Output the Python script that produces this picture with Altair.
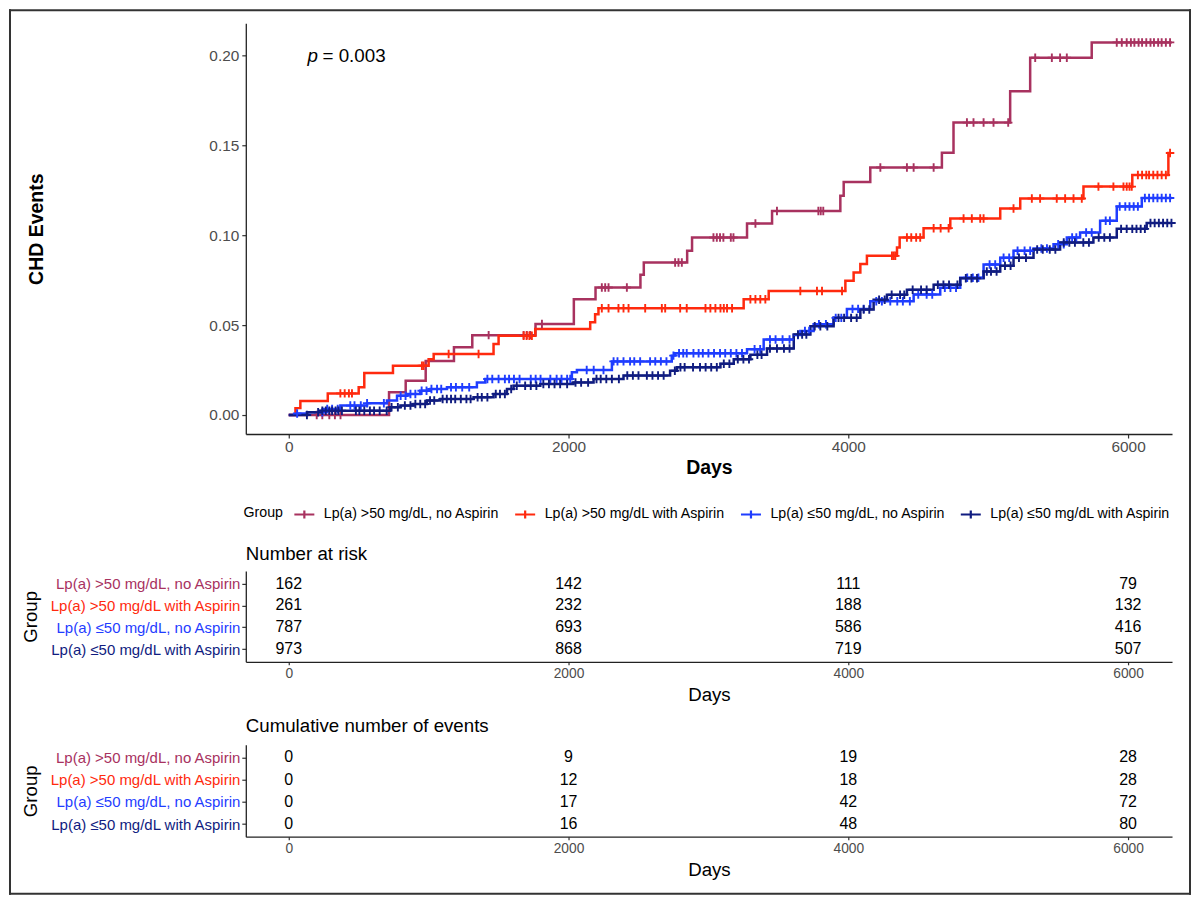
import altair as alt
import numpy as np
import pandas as pd

groups = ["Lp(a) >50 mg/dL, no Aspirin", "Lp(a) >50 mg/dL with Aspirin",
          "Lp(a) ≤50 mg/dL, no Aspirin", "Lp(a) ≤50 mg/dL with Aspirin"]
colors = ["#A8325F", "#FF2A0E", "#1F3DFF", "#101C80"]

# step curves (cumulative incidence)
g1_t = [0, 717, 836, 979, 1181, 1312, 1764, 2038, 2193, 2514, 2538, 2848, 2883, 3276, 3455, 3943, 3967, 4157, 4669, 4752, 5157, 5300, 5740]
g1_y = [0, 0.0126, 0.019, 0.030, 0.0376, 0.0444, 0.0506, 0.0644, 0.0709, 0.078, 0.0848, 0.0913, 0.0987, 0.1065, 0.1135, 0.1219, 0.1296, 0.1376, 0.1459, 0.1626, 0.180, 0.1987, 0.2072]
g2_t = [0, 48, 83, 279, 500, 540, 745, 1000, 1036, 1464, 1500, 1762, 2155, 2190, 2214, 3252, 3431, 3979, 4038, 4086, 4133, 4348, 4367, 4538, 4729, 5086, 5229, 5681, 6030, 6288]
g2_y = [0, 0.0038, 0.0077, 0.012, 0.0154, 0.0233, 0.0274, 0.031, 0.0339, 0.0394, 0.044, 0.0478, 0.0515, 0.056, 0.0594, 0.0644, 0.069, 0.0746, 0.0793, 0.0839, 0.0885, 0.0931, 0.0987, 0.1039, 0.1093, 0.1148, 0.1204, 0.127, 0.1335, 0.1457]
g3_t = [0, 60, 131, 250, 369, 560, 702, 774, 845, 940, 1012, 1131, 1345, 1405, 2024, 2060, 2310, 2738, 2762, 3276, 3395, 3610, 3657, 3752, 3895, 3990, 4157, 4467, 4657, 4800, 4967, 5086, 5181, 5324, 5467, 5562, 5657, 5800, 5919, 6098]
g3_y = [0, 0.0008, 0.0015, 0.0033, 0.0052, 0.0065, 0.008, 0.0107, 0.0117, 0.0135, 0.0144, 0.0154, 0.0181, 0.02, 0.0237, 0.025, 0.0298, 0.033, 0.0343, 0.0365, 0.042, 0.0445, 0.0467, 0.0505, 0.054, 0.059, 0.0633, 0.067, 0.0707, 0.0763, 0.0837, 0.0874, 0.0913, 0.0926, 0.095, 0.0987, 0.1015, 0.108, 0.116, 0.1207]
g4_t = [0, 131, 226, 726, 798, 893, 988, 1083, 1321, 1464, 1560, 1607, 1798, 2036, 2179, 2393, 2726, 2774, 3086, 3181, 3300, 3419, 3610, 3729, 3895, 4086, 4181, 4276, 4419, 4610, 4800, 4967, 5086, 5181, 5324, 5514, 5752, 5919, 6133]
g4_y = [0, 0.0015, 0.0024, 0.0043, 0.0052, 0.0061, 0.008, 0.0089, 0.0098, 0.0117, 0.0144, 0.0163, 0.0172, 0.0181, 0.02, 0.0219, 0.0246, 0.0265, 0.0285, 0.031, 0.0335, 0.037, 0.0448, 0.0494, 0.054, 0.0587, 0.0641, 0.0669, 0.0696, 0.0724, 0.076, 0.0798, 0.083, 0.0875, 0.092, 0.0959, 0.0987, 0.1035, 0.1068]
end_t = [6312, 6300, 6312, 6312]

# censoring times
g1_c = [200, 240, 290, 330, 370, 1429, 1679, 1702, 1726, 1810, 2238, 2262, 2286, 2417, 2762, 2786, 2810, 3036, 3060, 3083, 3107, 3160, 3179, 3336, 3490, 3786, 3803, 3821, 4229, 4419, 4467, 4610, 4848, 4895, 4967, 5038, 5143, 5336, 5455, 5514, 5562, 5919, 5955, 5990, 6020, 6045, 6075, 6100, 6130, 6160, 6185, 6215, 6240, 6270, 6300]
g2_c = [369, 400, 430, 452, 952, 964, 1143, 1357, 1679, 1700, 1720, 1738, 2238, 2286, 2357, 2393, 2429, 2548, 2667, 2691, 2798, 2845, 2979, 3014, 3050, 3086, 3110, 3133, 3169, 3300, 3336, 3371, 3407, 3657, 3776, 3812, 3955, 4312, 4325, 4336, 4419, 4450, 4485, 4514, 4610, 4660, 4717, 4824, 4883, 4943, 4967, 5181, 5312, 5371, 5490, 5550, 5610, 5669, 5788, 5895, 5967, 5990, 6010, 6026, 6070, 6100, 6130, 6150, 6180, 6210, 6240, 6270, 6300]
g3_c = [60, 240, 275, 310, 350, 440, 470, 515, 560, 680, 800, 835, 870, 905, 950, 985, 1020, 1060, 1090, 1160, 1195, 1240, 1290, 1420, 1455, 1500, 1545, 1575, 1610, 1650, 1730, 1765, 1800, 1870, 1915, 1950, 1990, 2012, 2130, 2180, 2250, 2322, 2350, 2393, 2440, 2470, 2512, 2583, 2620, 2660, 2700, 2750, 2790, 2820, 2845, 2893, 2930, 2960, 3000, 3040, 3083, 3120, 3160, 3200, 3240, 3330, 3370, 3440, 3480, 3530, 3580, 3640, 3690, 3720, 3790, 3840, 3910, 3950, 4030, 4070, 4110, 4200, 4240, 4300, 4350, 4390, 4440, 4500, 4560, 4600, 4690, 4730, 4770, 4850, 4890, 4930, 5010, 5050, 5110, 5150, 5210, 5260, 5300, 5380, 5420, 5500, 5540, 5600, 5630, 5700, 5740, 5840, 5870, 5940, 5980, 6010, 6040, 6070, 6120, 6150, 6180, 6210, 6240, 6270, 6300]
g4_c = [130, 210, 240, 265, 290, 310, 335, 355, 380, 480, 505, 540, 580, 610, 650, 700, 735, 780, 830, 870, 905, 940, 975, 1010, 1040, 1100, 1130, 1160, 1190, 1230, 1270, 1300, 1350, 1380, 1420, 1480, 1510, 1545, 1590, 1630, 1690, 1730, 1770, 1820, 1860, 1900, 1940, 1990, 2050, 2090, 2140, 2200, 2230, 2270, 2310, 2360, 2420, 2460, 2500, 2560, 2600, 2640, 2680, 2760, 2800, 2830, 2890, 2940, 2980, 3020, 3060, 3110, 3150, 3210, 3250, 3290, 3350, 3380, 3440, 3490, 3540, 3580, 3640, 3670, 3700, 3760, 3800, 3850, 3930, 3970, 4020, 4060, 4110, 4150, 4220, 4260, 4310, 4370, 4400, 4460, 4520, 4560, 4640, 4680, 4720, 4780, 4840, 4880, 4920, 4990, 5020, 5060, 5120, 5160, 5220, 5270, 5350, 5390, 5440, 5480, 5540, 5580, 5620, 5680, 5720, 5790, 5830, 5870, 5950, 5990, 6030, 6060, 6090, 6120, 6160, 6190, 6220, 6250, 6280, 6310]

# tables
table_days = [0, 2000, 4000, 6000]
risk_g1 = [162, 142, 111, 79]
risk_g2 = [261, 232, 188, 132]
risk_g3 = [787, 693, 586, 416]
risk_g4 = [973, 868, 719, 507]
ev_g1 = [0, 9, 19, 28]
ev_g2 = [0, 12, 18, 28]
ev_g3 = [0, 17, 42, 72]
ev_g4 = [0, 16, 48, 80]

FONT = "Liberation Sans"
curves = [(g1_t, g1_y, g1_c), (g2_t, g2_y, g2_c), (g3_t, g3_y, g3_c), (g4_t, g4_y, g4_c)]
line_rows, cens_rows = [], []
for g, (t, y, c), te in zip(groups, curves, end_t):
    for ti, yi in zip(t + [te], y + [y[-1]]):
        line_rows.append({"group": g, "t": ti, "y": yi})
    tt = np.array(t)
    for ci in c:
        idx = int(np.searchsorted(tt, ci, side="right")) - 1
        cens_rows.append({"group": g, "t": ci, "y": y[idx]})
line_df = pd.DataFrame(line_rows)
cens_df = pd.DataFrame(cens_rows)

xdom = [-307, 6314]
xscale = alt.Scale(domain=xdom, nice=False, zero=False)
yscale = alt.Scale(domain=[-0.0106, 0.2178], nice=False, zero=False)
cscale = alt.Scale(domain=groups, range=colors)
plus_path = "M-1,0L1,0M0,-1L0,1"
legend_sym = "M-1,0L1,0M0,-0.4L0,0.4"

xaxis_main = alt.Axis(values=table_days, format="d", title="Days", labelFontSize=15.4, titleFontSize=19.5,
                      titleFontWeight="bold", titlePadding=3, labelPadding=2, tickSize=4)
yaxis_main = alt.Axis(values=[0, 0.05, 0.10, 0.15, 0.20], format=".2f", title="CHD Events",
                      labelFontSize=15.4, titleFontSize=19.5, titleFontWeight="bold",
                      titlePadding=163, labelPadding=3, tickSize=4)

legend = alt.Legend(orient="none", legendX=-2.3, legendY=480, direction="horizontal",
                    title="Group", titleOrient="left", titleFontSize=14.2, titleFontWeight="normal",
                    titleColor="black", titlePadding=9.4, titleBaseline="middle", titleAnchor="middle",
                    labelFontSize=14.2, labelColor="black", labelLimit=0,
                    symbolType=legend_sym, symbolSize=400, symbolStrokeWidth=2.2,
                    labelOffset=8, columnPadding=11, padding=0)

lines = alt.Chart(line_df).mark_line(interpolate="step-after", strokeWidth=2.5).encode(
    x=alt.X("t:Q", scale=xscale, axis=xaxis_main),
    y=alt.Y("y:Q", scale=yscale, axis=yaxis_main),
    color=alt.Color("group:N", scale=cscale, legend=legend),
    detail="group:N",
)
cens = alt.Chart(cens_df).mark_point(shape=plus_path, size=72, filled=False, strokeWidth=1.9, opacity=1).encode(
    x=alt.X("t:Q", scale=xscale),
    y=alt.Y("y:Q", scale=yscale),
    color=alt.Color("group:N", scale=cscale, legend=legend),
)
dummy = pd.DataFrame({"k": [0]})
p_italic = alt.Chart(dummy).mark_text(text="p", fontStyle="italic", fontSize=18.8, align="left",
                                     baseline="middle", color="black").encode(
    x=alt.datum(134), y=alt.datum(0.1994))
p_rest = alt.Chart(dummy).mark_text(text="= 0.003", fontSize=18.8, align="left", dx=15,
                                   baseline="middle", color="black").encode(
    x=alt.datum(134), y=alt.datum(0.1994))

bc = "#333333"
b_left = alt.Chart(dummy).mark_rule(color=bc, strokeWidth=2, strokeCap="square").encode(
    x=alt.value(-236), y=alt.value(-13), y2=alt.value(871))
b_right = alt.Chart(dummy).mark_rule(color=bc, strokeWidth=2, strokeCap="square").encode(
    x=alt.value(945), y=alt.value(-13), y2=alt.value(871))
b_top = alt.Chart(dummy).mark_rule(color=bc, strokeWidth=2, strokeCap="square").encode(
    x=alt.value(-236), x2=alt.value(945), y=alt.value(-13))
b_bot = alt.Chart(dummy).mark_rule(color=bc, strokeWidth=2, strokeCap="square").encode(
    x=alt.value(-236), x2=alt.value(945), y=alt.value(871))

main = alt.layer(lines, cens, p_italic, p_rest, b_left, b_right, b_top, b_bot).properties(width=927, height=411)

color_expr = ("datum.value == '%s' ? '%s' : datum.value == '%s' ? '%s' : datum.value == '%s' ? '%s' : '%s'"
              % (groups[0], colors[0], groups[1], colors[1], groups[2], colors[2], colors[3]))


def table(vals, title, pad, offset):
    rows = []
    for g, v in zip(groups, vals):
        for d, n in zip(table_days, v):
            rows.append({"group": g, "t": d, "n": n})
    df = pd.DataFrame(rows)
    return alt.Chart(df).mark_text(fontSize=16, color="black").encode(
        x=alt.X("t:Q", scale=xscale,
                axis=alt.Axis(values=table_days, format="d", title="Days", labelFontSize=13.8,
                              titleFontSize=18.7, titleFontWeight="normal", titlePadding=5,
                              labelPadding=2, tickSize=3)),
        y=alt.Y("group:N", sort=groups,
                scale=alt.Scale(type="point", domain=groups, padding=pad),
                axis=alt.Axis(title="Group", titleFontSize=18.7, titleFontWeight="normal",
                              titlePadding=8.5, labelFontSize=15, labelLimit=0, tickSize=4,
                              labelPadding=2, labelColor=alt.ExprRef(color_expr))),
        text="n:Q",
    ).properties(width=927, height=91,
                 title=alt.TitleParams(title, anchor="start", frame="group", fontSize=18.7,
                                       fontWeight="normal", color="black", offset=offset))


risk = table([risk_g1, risk_g2, risk_g3, risk_g4], "Number at risk", 0.58, 7)
cum = table([ev_g1, ev_g2, ev_g3, ev_g4], "Cumulative number of events", 0.57, 9).properties(height=92)

bottom = alt.vconcat(risk, cum, spacing=83, bounds="flush")
chart = alt.vconcat(main, bottom, spacing=137, bounds="flush", padding=0).configure(
    font=FONT, background="white"
).configure_view(stroke="transparent").configure_axis(
    labelFont=FONT, titleFont=FONT, grid=False, domainColor="#222222", domainWidth=1.3,
    tickColor="#333333", tickWidth=1.2, labelColor="#4D4D4D", titleColor="black"
).configure_legend(labelFont=FONT, titleFont=FONT).configure_title(font=FONT).configure_text(font=FONT)

chart.save("out.html", embed_options={"renderer": "svg", "actions": False})
